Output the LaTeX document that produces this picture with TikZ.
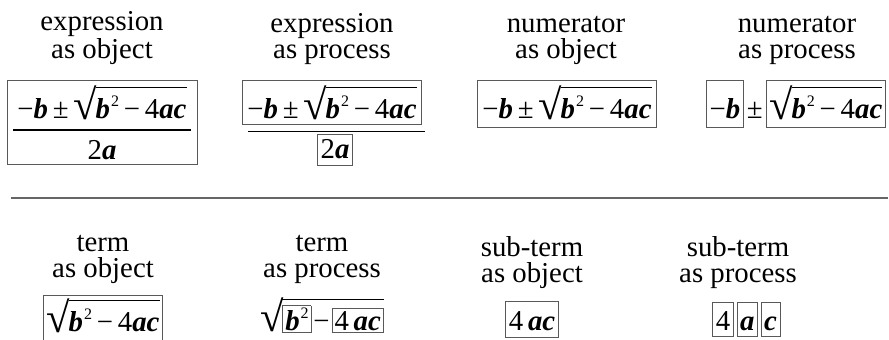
\documentclass[tikz,border=0pt]{standalone}
\usepackage{fontspec}
\setmainfont{Liberation Serif}
\usepackage{graphicx}
\usepackage{tikz}
\usetikzlibrary{positioning,fit}

\newcommand{\fs}{\fontsize{28.8}{26}\selectfont}
\newcommand{\va}{\textbf{\textit{a}}}
\newcommand{\vb}{\textbf{\textit{b}}}
\newcommand{\vc}{\textbf{\textit{c}}}
\newcommand{\mn}{−}
\newcommand{\radsign}{\raisebox{-2pt}{\resizebox{!}{34pt}{\raisebox{\depth}{√}}}}
\newcommand{\sq}[1]{\radsign\kern-1.2pt\vbox{\hrule height 0.9pt\kern2pt\hbox{\rule{0pt}{28pt}#1}}}
\newcommand{\bsq}{\vb\kern1pt\raisebox{11.5pt}{\fontsize{16}{16}\selectfont 2}}
\newcommand{\rootterm}{\sq{\bsq\,\mn\,4\va\vc}}
\newcommand{\numer}{\mn\vb\,±\,\rootterm}
\newcommand{\ibox}[1]{{\setlength{\fboxsep}{2pt}\setlength{\fboxrule}{0.8pt}\fcolorbox{black!65}{white}{#1}}}

\begin{document}
\begin{tikzpicture}[
  x=1pt, y=-1pt,
  lbl/.style={align=center, font=\fs, inner sep=0pt},
  fm/.style={font=\fs, inner sep=0pt},
  box/.style={draw=black!65, line width=0.8pt, font=\fs, inner xsep=3pt, inner ysep=0pt},
  bar/.style={line width=1.6pt},
  rule/.style={draw=black!60, line width=1.2pt}
]
  \useasboundingbox (0,0) rectangle (889,340);
  \clip (0,0) rectangle (889,340);
  % top row labels
  \node[lbl, anchor=base] (lexpobj) at (102,58) {expression\\as object};
  \node[lbl, anchor=base] (lexppro) at (332,58) {expression\\as process};
  \node[lbl, anchor=base] (lnumobj) at (566,58) {numerator\\as object};
  \node[lbl, anchor=base] (lnumpro) at (797,58) {numerator\\as process};
  % expression as object
  \node[fm, anchor=base] (num1) at (102,118) {\numer};
  \node[fm, anchor=base] (den1) at (102,159) {2\va};
  \coordinate (bar1l) at (13,130);
  \coordinate (bar1r) at (191,130);
  \draw[bar] (bar1l) -- (bar1r);
  \node[box, fit=(num1)(den1)(bar1l)(bar1r), inner xsep=6pt, inner ysep=5pt] (expobj) {};
  % expression as process
  \node[box, anchor=base, inner xsep=5pt, text height=38pt, text depth=6pt] (num2) at (332,118) {\numer};
  \node[box, anchor=base, text height=24pt, text depth=7pt] (den2) at (335,158) {2\va};
  \draw[bar] ([xshift=6pt,yshift=-7pt]num2.south west) -- ([xshift=3pt,yshift=-7pt]num2.south east);
  % numerator as object
  \node[box, anchor=base, inner xsep=5pt, text height=38pt, text depth=9pt] (num3) at (567,118) {\numer};
  % numerator as process
  \node[box, anchor=base, text height=38pt, text depth=9pt] (nb4) at (725,118) {\mn\vb};
  \node[fm, base right=3pt of nb4] (pm4) {±};
  \node[box, base right=3pt of pm4, inner xsep=3pt, text height=38pt, text depth=9pt] (rt4) {\rootterm};
  % separator
  \draw[rule] (11,198) -- (888,198);
  % bottom row labels
  \node[lbl, anchor=base] (ltrmobj) at (103,277) {term\\as object};
  \node[lbl, anchor=base] (ltrmpro) at (322,277) {term\\as process};
  \node[lbl, anchor=base] (lsubobj) at (532,282) {sub-term\\as object};
  \node[lbl, anchor=base] (lsubpro) at (738,282) {sub-term\\as process};
  % term as object
  \node[box, anchor=base, text height=36pt, text depth=20pt] (trm5) at (103,331) {\rootterm};
  % term as process
  \node[fm, anchor=base] (trm6) at (322,330) {\sq{\ibox{\bsq}\kern2pt\mn\kern2pt\ibox{4\,\va\vc}}};
  % sub-term as object
  \node[box, anchor=base, text height=29pt, text depth=7pt] (sub7) at (532,330) {4\,\va\vc};
  % sub-term as process
  \node[box, anchor=base, text height=28pt, text depth=6pt] (s4) at (723,330) {4};
  \node[box, base right=3pt of s4, text height=28pt, text depth=6pt] (sa) {\va};
  \node[box, base right=3pt of sa, text height=28pt, text depth=6pt] (sc) {\vc};
\end{tikzpicture}
\end{document}
